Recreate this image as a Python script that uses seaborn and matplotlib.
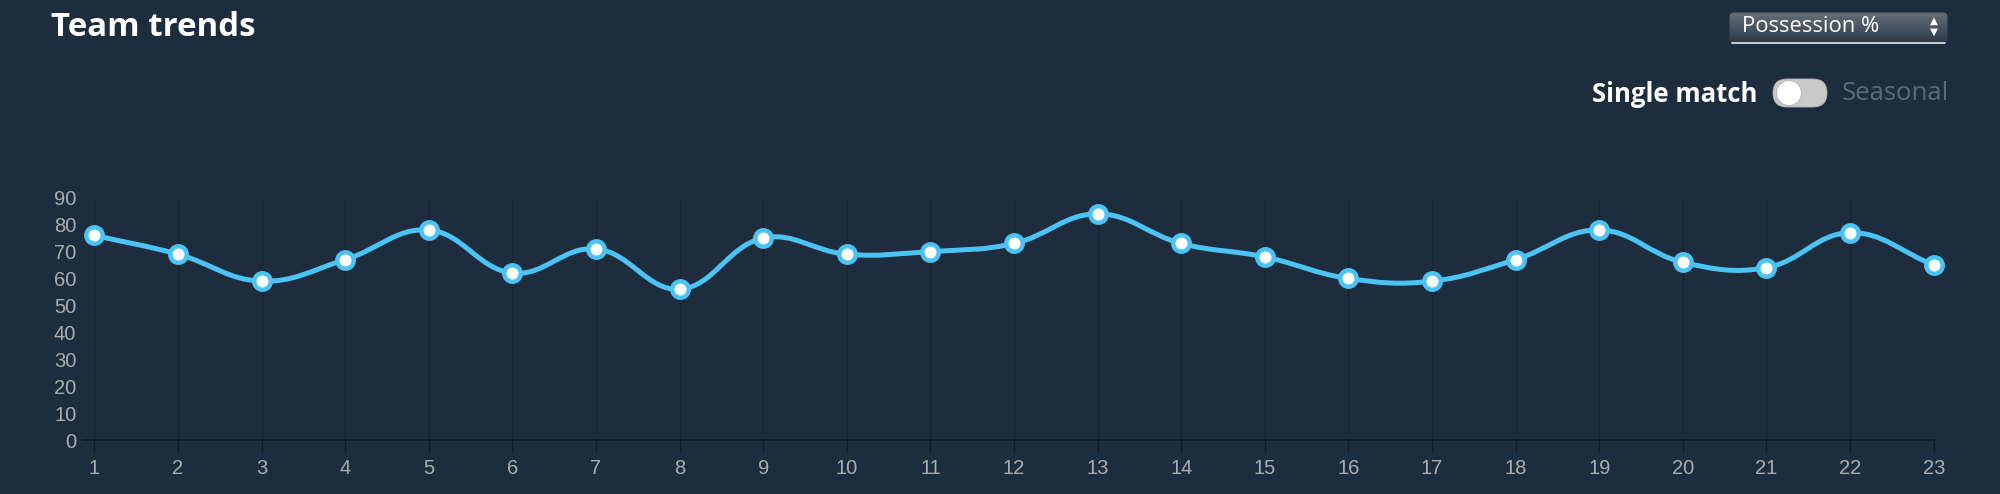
import numpy as np
import pandas as pd
import matplotlib
matplotlib.use("Agg")
import matplotlib.pyplot as plt
from matplotlib.path import Path
from matplotlib.patches import PathPatch, FancyBboxPatch, Circle
import seaborn as sns

# ---- data ----
matches = list(range(1, 24))
possession = [76, 69, 59, 67, 78, 62, 71, 56, 75, 69, 70, 73, 84, 73, 68,
              60, 59, 67, 78, 66, 64, 77, 65]
y_ticks = [0, 10, 20, 30, 40, 50, 60, 70, 80, 90]
title_text = "Team trends"
dropdown_text = "Possession %"
toggle_left = "Single match"
toggle_right = "Seasonal"

BG = "#1e2d3d"
LINE = "#4cc3f5"
GRID = "#182532"
AXIS = "#111b25"
TICKLBL = "#a9adb1"
HEAD_FONT = ["Open Sans", "Lato", "DejaVu Sans"]

sns.set_theme(style="dark")
plt.rcParams["font.family"] = ["Liberation Sans Narrow", "Liberation Sans", "DejaVu Sans"]

W, H = 2000, 494
fig = plt.figure(figsize=(W / 100, H / 100), dpi=100, facecolor=BG)

# overlay axes in pixel coordinates for header widgets
ov = fig.add_axes([0, 0, 1, 1])
ov.set_xlim(0, W)
ov.set_ylim(H, 0)
ov.axis("off")
ov.patch.set_alpha(0)

ax = fig.add_axes([94.4 / W, 1 - 440 / H, 1839.3 / W, 242.3 / H])
ax.set_facecolor(BG)

df = pd.DataFrame({"match": matches, "value": possession})

ax.set_xlim(1, 23)
ax.set_ylim(0, 90)

# smooth line (Chart.js-like cardinal spline, tension 0.4) computed in display space
fig.canvas.draw()
pts = ax.transData.transform(np.column_stack([df["match"], df["value"]]).astype(float))
t = 0.4
n = len(pts)
cps_prev, cps_next = [], []
for i in range(n):
    prev = pts[i - 1] if i > 0 else pts[i]
    cur = pts[i]
    nxt = pts[i + 1] if i < n - 1 else pts[i]
    d01 = np.hypot(*(cur - prev))
    d12 = np.hypot(*(nxt - cur))
    tot = d01 + d12
    s01 = d01 / tot if tot else 0
    s12 = d12 / tot if tot else 0
    cps_prev.append(cur - t * s01 * (nxt - prev))
    cps_next.append(cur + t * s12 * (nxt - prev))
verts = [pts[0]]
codes = [Path.MOVETO]
for i in range(n - 1):
    verts += [cps_next[i], cps_prev[i + 1], pts[i + 1]]
    codes += [Path.CURVE4] * 3
inv = ax.transData.inverted()
verts_d = inv.transform(np.array(verts))
ax.add_patch(PathPatch(Path(verts_d, codes), facecolor="none", edgecolor=LINE,
                       lw=3.6, zorder=3, clip_on=False, capstyle="round", joinstyle="round"))

sns.scatterplot(data=df, x="match", y="value", ax=ax, s=140, color="white",
                edgecolor=LINE, linewidth=3.2, zorder=4, clip_on=False, legend=False)

ax.set_xticks(matches)
ax.set_xticklabels([str(m) for m in matches])
ax.set_yticks(y_ticks)
ax.set_yticklabels([str(v) for v in y_ticks])
ax.set_xlabel("")
ax.set_ylabel("")
ax.grid(False)
for x in matches:
    ax.axvline(x, color=GRID, lw=1.0, zorder=1)
for s in ["top", "right", "left"]:
    ax.spines[s].set_visible(False)
ax.spines["bottom"].set_color(AXIS)
ax.spines["bottom"].set_linewidth(1.3)
ax.tick_params(axis="x", colors=AXIS, length=9.5, width=1, pad=4, labelcolor=TICKLBL,
               labelsize=14.5, bottom=True)
ax.tick_params(axis="y", length=0, pad=13, labelcolor=TICKLBL, labelsize=14.5, left=False)
ax.plot([-12 / 1839.3, 0], [0, 0], transform=ax.get_yaxis_transform(), color=AXIS, lw=1.3,
        clip_on=False)

# ---- header ----
ov.text(51, 27, title_text, color="white", fontsize=23.8, fontweight="bold",
        family=HEAD_FONT, va="center", ha="left")

# dropdown with gradient
x0, y0, bw, bh = 1729, 12, 219, 31
dd = FancyBboxPatch((x0, y0), bw, bh, boxstyle="round,pad=0,rounding_size=5",
                    facecolor="none", edgecolor="none")
ov.add_patch(dd)
grad = np.linspace(0, 1, 64).reshape(-1, 1)
top_c = np.array([0.40, 0.44, 0.48])
bot_c = np.array([0.17, 0.22, 0.27])
img = top_c[None, None, :] * (1 - grad[..., None]) + bot_c[None, None, :] * grad[..., None]
im = ov.imshow(img, extent=(x0, x0 + bw, y0 + bh, y0), aspect="auto", zorder=2,
               interpolation="bilinear")
im.set_clip_path(dd)
ov.add_patch(FancyBboxPatch((x0, y0), bw, bh, boxstyle="round,pad=0,rounding_size=5",
                            facecolor="none", edgecolor="#222e3a", lw=0.8, zorder=3))
ov.plot([x0 + 3, x0 + bw - 3], [y0 + bh, y0 + bh], color="#e6e9ec", lw=1.2, zorder=4,
        solid_capstyle="round")
ov.text(1742, 27, dropdown_text, color="white", fontsize=15.8,
        family=HEAD_FONT, va="center", ha="left", zorder=5)
ov.text(1934, 21, "▲", color="white", fontsize=7.5, family=["DejaVu Sans"], va="center",
        ha="center", zorder=5)
ov.text(1934, 32, "▼", color="white", fontsize=7.5, family=["DejaVu Sans"], va="center",
        ha="center", zorder=5)

# toggle
ov.text(1757, 94, toggle_left, color="white", fontsize=18.5, fontweight="bold",
        family=HEAD_FONT, va="center", ha="right")
ov.add_patch(FancyBboxPatch((1773, 79), 54, 28, boxstyle="round,pad=0,rounding_size=14",
                            facecolor="#c9c9c9", edgecolor="#b5b5b5", lw=0.6, zorder=2))
ov.add_patch(Circle((1789, 93), 12.5, facecolor="white", edgecolor="#b0b0b0", lw=0.6, zorder=3))
ov.text(1842, 94, toggle_right, color="#5d6a77", fontsize=18.5,
        family=HEAD_FONT, va="center", ha="left")

fig.savefig("out.png", dpi=100, facecolor=BG)
